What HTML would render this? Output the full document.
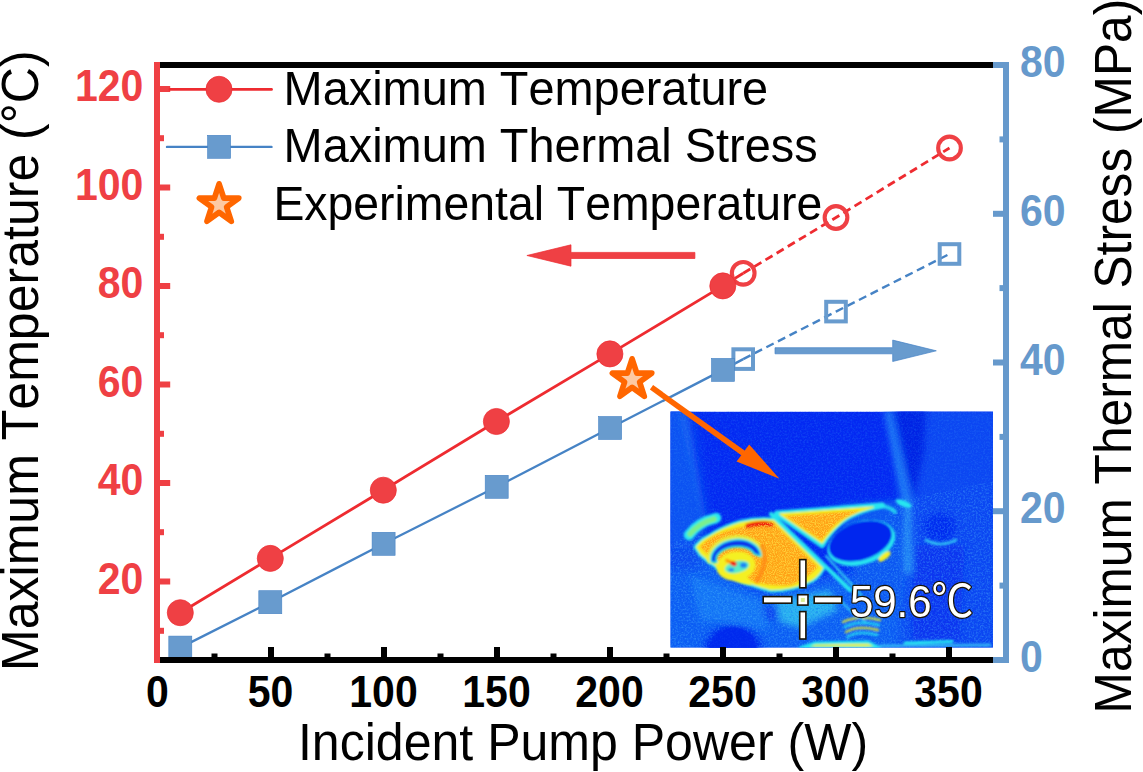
<!DOCTYPE html>
<html><head><meta charset="utf-8"><title>Figure</title>
<style>
html,body{margin:0;padding:0;background:#fff;}
body{width:1143px;height:772px;overflow:hidden;position:relative;}
svg{position:absolute;left:0;top:0;display:block;}
text{font-family:"Liberation Sans","Noto Sans CJK SC",sans-serif;font-kerning:none;}
.tk{font-weight:bold;font-size:41px;}
.lb{font-size:50px;fill:#000;}
.lg{font-size:46px;fill:#000;}
</style></head><body>
<svg width="1143" height="772" viewBox="0 0 1143 772">

<defs>
<clipPath id="ic"><rect x="670.5" y="411.6" width="322.5" height="236.0"/></clipPath>
<filter id="b1" x="-10%" y="-10%" width="120%" height="120%"><feGaussianBlur stdDeviation="1.1"/></filter>
<filter id="b3" x="-20%" y="-20%" width="140%" height="140%"><feGaussianBlur stdDeviation="3"/></filter>
<filter id="b6" x="-30%" y="-30%" width="160%" height="160%"><feGaussianBlur stdDeviation="6"/></filter>
<filter id="nz" x="0" y="0" width="100%" height="100%"><feTurbulence type="fractalNoise" baseFrequency="0.55" numOctaves="2" seed="7" result="t"/><feColorMatrix type="matrix" values="0 0 0 0 0.1  0 0 0 0 0.58  0 0 0 0 1  0 0 0 2.4 -1.0"/></filter>
<filter id="nzd" x="0" y="0" width="100%" height="100%"><feTurbulence type="fractalNoise" baseFrequency="0.6" numOctaves="2" seed="3"/><feColorMatrix type="matrix" values="0 0 0 0 0  0 0 0 0 0.08  0 0 0 0 0.92  0 0 0 2.4 -1.1"/></filter>
<filter id="nzy" x="0" y="0" width="100%" height="100%"><feTurbulence type="fractalNoise" baseFrequency="0.9" numOctaves="2" seed="11"/><feColorMatrix type="matrix" values="0 0 0 0 1  0 0 0 0 0.95  0 0 0 0 0.1  0 0 0 3.2 -1.25"/></filter>
</defs>
<g clip-path="url(#ic)">
<rect x="670.5" y="411.6" width="322.5" height="236.0" fill="#0428f2"/>
<g filter="url(#b6)">
<path d="M660 560 L700 548 L760 590 L830 575 L900 570 L1000 560 L1000 660 L660 660 Z" fill="#0c5ef4"/>
<path d="M664 405 L690 405 L706 520 L700 570 L664 570 Z" fill="#0c4cf0"/>
<path d="M896 405 L1000 405 L1000 660 L900 660 L905 520 Z" fill="#0a46f2"/>
</g>
<g filter="url(#b3)">
<path d="M676 412 L684 412 L704 520 L696 525 Z" fill="#2a86f6"/>
<path d="M884 410 L891 410 L912 505 L903 506 Z" fill="#2280f6"/>
<path d="M838 505 L900 500 L905 560 L900 600 L860 600 Z" fill="#0e58f2"/>
<path d="M894 408 L926 408 L924 452 L914 498 L906 470 Z" fill="#0322e4"/>
<path d="M904 500 L911 500 L912 574 L905 574 Z" fill="#2c9af6"/>
<path d="M668 408 L681 408 L705 528 L694 548 L668 548 Z" fill="#0e52f2"/>
<ellipse cx="940" cy="527" rx="16" ry="14" fill="#042cf0"/>
<path d="M915 545 L965 545 L960 640 L912 640 Z" fill="#0836f0"/>
<ellipse cx="733" cy="651" rx="30" ry="28" fill="#0630f0"/>
<ellipse cx="768" cy="614" rx="12" ry="7" fill="#0840f0"/>
<path d="M776 600 L830 590 L838 610 L800 628 L780 622 Z" fill="#2ab4f0"/>
<path d="M690 575 L760 600 L770 630 L700 620 Z" fill="#1478f6"/>
</g>
<rect x="670.5" y="411.6" width="322.5" height="236.0" filter="url(#nz)" opacity=".16"/>
<clipPath id="lc"><path d="M660 545 L700 535 L760 590 L830 575 L900 500 L1000 480 L1000 660 L660 660 Z"/></clipPath>
<rect x="670.5" y="471.6" width="322.5" height="176.0" filter="url(#nz)" opacity=".24" clip-path="url(#lc)"/>
<rect x="670.5" y="411.6" width="322.5" height="236.0" filter="url(#nzd)" opacity=".35"/>
<g filter="url(#b1)" stroke-linejoin="round" stroke-linecap="round">
<ellipse cx="733" cy="652" rx="25" ry="25" fill="#0428ee" opacity=".8"/>
<path d="M689 535 Q698 522 716 518" fill="none" stroke="#28e6f0" stroke-width="10.5"/>
<path d="M690 534 Q699 523 714 519" fill="none" stroke="#7af08c" stroke-width="5.5"/>
<path d="M696 547 Q700 541 709 536.5 Q722 528 740 522.5 Q756 518.5 774 520 L823 568 Q817 579 808 582 Q792 590 771 590 Q750 585 732 576 Q714 566 701 554.5 Z" fill="#28e6f0" stroke="#28e6f0" stroke-width="5"/>
<path d="M696 547 Q700 541 709 536.5 Q722 528 740 522.5 Q756 518.5 774 520 L823 568 Q817 579 808 582 Q792 590 771 590 Q750 585 732 576 Q714 566 701 554.5 Z" fill="#f4f020" stroke="#f4f020" stroke-width="0.5"/>
<path d="M700 547 Q706 540 716 535 Q736 526 773 522 L818 567 Q808 578 792 585 Q772 587 752 581 Q730 571 706 553 Z" fill="#ffa214"/>
<path d="M748 526 Q760 522.5 771 524.5" fill="none" stroke="#f01808" stroke-width="5.2"/>
<path d="M777 513.5 L882 505.5 Q856 510 842 521 Q829 532 822 545 Z" fill="#28e6f0" stroke="#28e6f0" stroke-width="6"/>
<path d="M780 514 L873 507.3 Q848 514 838 525 Q828 534 822 543 Z" fill="#f4f020" stroke="#f4f020" stroke-width="1.5"/>
<path d="M785 516 L860 510.5 Q840 518 831 529 Q825 536 821.5 540.5 Z" fill="#ffa214"/>
<path d="M876 506 Q888 505 895 512" fill="none" stroke="#28e6f0" stroke-width="4" opacity=".8"/>
<path d="M771 514 L850 590" fill="none" stroke="#28e6f0" stroke-width="4.2"/>
<path d="M826 556 L862 596" fill="none" stroke="#30c8f4" stroke-width="2.2"/>
</g>
<clipPath id="hc"><path d="M700 547 Q706 540 716 535 Q736 526 773 522 L818 567 Q808 578 792 585 Q772 587 752 581 Q730 571 706 553 Z"/><path d="M785 516 L860 510.5 Q840 518 831 529 Q825 536 821.5 540.5 Z"/></clipPath>
<rect x="690" y="505" width="190" height="95" filter="url(#nzy)" opacity=".5" clip-path="url(#hc)"/>
<g filter="url(#b1)" stroke-linejoin="round" stroke-linecap="round">
<path d="M710.5 560 A25 18 -7 0 1 761 554" fill="none" stroke="#e4f23c" stroke-width="7" opacity=".9"/>
<ellipse cx="736" cy="566" rx="19.5" ry="14.5" fill="#f4f020" transform="rotate(-8 736 566)"/>
<path d="M716 566 Q726 583 752 585 L744 572 Z" fill="#f4f020"/>
<path d="M711.8 561.2 A24 17.5 -7 0 1 759.9 555.2 L754.6 553 A20 11.5 -7 0 0 716 561.8 Z" fill="#28e6f0" stroke="#28e6f0" stroke-width="3.6"/>
<path d="M711.8 561.2 A24 17.5 -7 0 1 759.9 555.2 L754.6 553 A20 11.5 -7 0 0 716 561.8 Z" fill="#0a34ea"/>
<ellipse cx="737" cy="567" rx="12.5" ry="6" fill="#58ecc8" transform="rotate(-12 737 567)"/>
<ellipse cx="743.5" cy="565.2" rx="3.4" ry="2.6" fill="#1c84f4"/>
<ellipse cx="731.2" cy="569.8" rx="3" ry="1.8" fill="#1c84f4"/>
<path d="M727 560.5 L733 563.5" fill="none" stroke="#ff9a10" stroke-width="3.6"/>
<ellipse cx="733.6" cy="563.6" rx="3.3" ry="2.4" fill="#f01808" transform="rotate(25 733.6 563.6)"/>
<path d="M762 546 Q769 562 757 581" fill="none" stroke="#ff8410" stroke-width="4.5" opacity=".75"/>
<ellipse cx="861.3" cy="543" rx="35" ry="21.4" fill="#28e6f0" transform="rotate(-18 861.3 543)"/>
<ellipse cx="884.5" cy="556.5" rx="7.5" ry="3" fill="#f4f020" transform="rotate(-38 884.5 556.5)"/>
<ellipse cx="860.3" cy="541" rx="32.6" ry="18.8" fill="#0428ee" transform="rotate(-18 860.3 541)"/>
<ellipse cx="903.5" cy="503.5" rx="8.5" ry="3" fill="#28e6f0" transform="rotate(22 903.5 503.5)"/>
<path d="M926 540 Q940 548 956 540" fill="none" stroke="#30c0f4" stroke-width="2.6"/>
<path d="M843.0 622 Q858 615 880 620" fill="none" stroke="#f4f020" stroke-width="2.4" opacity=".85"/>
<path d="M844.5 627 Q858 620 879 625" fill="none" stroke="#28e6f0" stroke-width="2.4" opacity=".85"/>
<path d="M846.0 632 Q858 625 878 630" fill="none" stroke="#f4f020" stroke-width="2.4" opacity=".85"/>
<path d="M847.5 637 Q858 630 877 635" fill="none" stroke="#28e6f0" stroke-width="2.4" opacity=".85"/>
<path d="M800 648 L815 643 L868 642 L880 648 Z" fill="#f4f020" stroke="#28e6f0" stroke-width="3"/>
<path d="M905 643 L952 641.5" fill="none" stroke="#28e6f0" stroke-width="3"/>
<path d="M880 646 L990 645" fill="none" stroke="#30b0f4" stroke-width="3"/>
<path d="M840 600 Q850 612 866 622" fill="none" stroke="#30c0f4" stroke-width="2"/>
</g>
</g>
<rect x="799.7" y="559.6" width="6.2" height="28.2" fill="#fff" stroke="#1a1408" stroke-width="1.6"/>
<rect x="799.7" y="611.6" width="6.2" height="27.4" fill="#fff" stroke="#1a1408" stroke-width="1.6"/>
<rect x="763.2" y="596.6" width="28.6" height="6.6" fill="#fff" stroke="#1a1408" stroke-width="1.6"/>
<rect x="814.2" y="596.6" width="27.6" height="6.6" fill="#fff" stroke="#1a1408" stroke-width="1.6"/>
<rect x="797.6" y="594.7" width="10.4" height="10.4" fill="#fff" stroke="#1a1408" stroke-width="1.6"/>
<rect x="800.8" y="597.9" width="4" height="4" fill="#d8ee90"/>
<text x="850" y="616.5" font-size="45" fill="#fff" stroke="#1a1408" stroke-width="2.5" stroke-linejoin="round" paint-order="stroke" textLength="123.5" lengthAdjust="spacingAndGlyphs">59.6℃</text>
<polyline points="180.3,647.6 270.3,602.2 383.6,543.8 496.7,486.8 610.1,428.0 723.0,369.9 743.2,359.1" fill="none" stroke="#4683c5" stroke-width="2.4"/>
<polyline points="743.2,359.1 836.0,311.6 949.5,254.0" fill="none" stroke="#4683c5" stroke-width="2.4" stroke-dasharray="8.2 4.8"/>
<polyline points="180.3,612.7 270.3,558.4 383.3,490.2 496.4,421.5 609.9,353.9 722.8,285.9 743.2,273.3" fill="none" stroke="#ee2b30" stroke-width="2.8"/>
<polyline points="743.2,273.3 836.0,217.5 949.5,148.0" fill="none" stroke="#ee2b30" stroke-width="2.8" stroke-dasharray="8.2 4.8"/>
<rect x="733.4" y="349.3" width="19.6" height="19.6" fill="none" stroke="#689bce" stroke-width="4"/>
<rect x="826.2" y="301.8" width="19.6" height="19.6" fill="none" stroke="#689bce" stroke-width="4"/>
<rect x="939.7" y="244.2" width="19.6" height="19.6" fill="none" stroke="#689bce" stroke-width="4"/>
<circle cx="743.2" cy="273.3" r="11.35" fill="none" stroke="#ef4044" stroke-width="4.1"/>
<circle cx="836.0" cy="217.5" r="11.35" fill="none" stroke="#ef4044" stroke-width="4.1"/>
<circle cx="949.5" cy="148.0" r="11.35" fill="none" stroke="#ef4044" stroke-width="4.1"/>
<rect x="168.8" y="636.1" width="23" height="23" fill="#689bce" stroke="#4683c5" stroke-width="0.6"/>
<rect x="258.8" y="590.7" width="23" height="23" fill="#689bce" stroke="#4683c5" stroke-width="0.6"/>
<rect x="372.1" y="532.3" width="23" height="23" fill="#689bce" stroke="#4683c5" stroke-width="0.6"/>
<rect x="485.2" y="475.3" width="23" height="23" fill="#689bce" stroke="#4683c5" stroke-width="0.6"/>
<rect x="598.6" y="416.5" width="23" height="23" fill="#689bce" stroke="#4683c5" stroke-width="0.6"/>
<rect x="711.5" y="358.4" width="23" height="23" fill="#689bce" stroke="#4683c5" stroke-width="0.6"/>
<circle cx="180.3" cy="612.7" r="13.05" fill="#ef4044" stroke="#ee2b30" stroke-width="0.7"/>
<circle cx="270.3" cy="558.4" r="13.05" fill="#ef4044" stroke="#ee2b30" stroke-width="0.7"/>
<circle cx="383.3" cy="490.2" r="13.05" fill="#ef4044" stroke="#ee2b30" stroke-width="0.7"/>
<circle cx="496.4" cy="421.5" r="13.05" fill="#ef4044" stroke="#ee2b30" stroke-width="0.7"/>
<circle cx="609.9" cy="353.9" r="13.05" fill="#ef4044" stroke="#ee2b30" stroke-width="0.7"/>
<circle cx="722.8" cy="285.9" r="13.05" fill="#ef4044" stroke="#ee2b30" stroke-width="0.7"/>
<rect x="160" y="62" width="833" height="6" fill="#000"/>
<rect x="160" y="657" width="833" height="6" fill="#000"/>
<rect x="154" y="62" width="6" height="601" fill="#ef4044"/>
<rect x="1003" y="62" width="6" height="601" fill="#6699cc"/>
<rect x="993" y="62" width="10" height="6" fill="#6699cc"/>
<rect x="993" y="657" width="10" height="6" fill="#6699cc"/>
<rect x="160" y="578.5" width="10.2" height="6" fill="#ef4044"/>
<text transform="translate(143.30,593.90) scale(0.938,1)" font-size="43.7" text-anchor="end" fill="#ef4044" font-weight="bold">20</text>
<rect x="160" y="480.0" width="10.2" height="6" fill="#ef4044"/>
<text transform="translate(143.30,495.40) scale(0.938,1)" font-size="43.7" text-anchor="end" fill="#ef4044" font-weight="bold">40</text>
<rect x="160" y="381.5" width="10.2" height="6" fill="#ef4044"/>
<text transform="translate(143.30,396.90) scale(0.938,1)" font-size="43.7" text-anchor="end" fill="#ef4044" font-weight="bold">60</text>
<rect x="160" y="283.0" width="10.2" height="6" fill="#ef4044"/>
<text transform="translate(143.30,298.40) scale(0.938,1)" font-size="43.7" text-anchor="end" fill="#ef4044" font-weight="bold">80</text>
<rect x="160" y="184.5" width="10.2" height="6" fill="#ef4044"/>
<text transform="translate(143.30,199.90) scale(0.938,1)" font-size="43.7" text-anchor="end" fill="#ef4044" font-weight="bold">100</text>
<rect x="160" y="86.0" width="10.2" height="6" fill="#ef4044"/>
<text transform="translate(143.30,101.40) scale(0.938,1)" font-size="43.7" text-anchor="end" fill="#ef4044" font-weight="bold">120</text>
<rect x="160" y="627.8" width="4" height="6" fill="#ef4044"/>
<rect x="160" y="529.2" width="4" height="6" fill="#ef4044"/>
<rect x="160" y="430.8" width="4" height="6" fill="#ef4044"/>
<rect x="160" y="332.2" width="4" height="6" fill="#ef4044"/>
<rect x="160" y="233.8" width="4" height="6" fill="#ef4044"/>
<rect x="160" y="135.2" width="4" height="6" fill="#ef4044"/>
<text transform="translate(1020.00,672.20) scale(0.938,1)" font-size="43.7" text-anchor="start" fill="#6699cc" font-weight="bold">0</text>
<rect x="993" y="508.2" width="10" height="6" fill="#6699cc"/>
<text transform="translate(1020.00,523.45) scale(0.938,1)" font-size="43.7" text-anchor="start" fill="#6699cc" font-weight="bold">20</text>
<rect x="993" y="359.5" width="10" height="6" fill="#6699cc"/>
<text transform="translate(1020.00,374.70) scale(0.938,1)" font-size="43.7" text-anchor="start" fill="#6699cc" font-weight="bold">40</text>
<rect x="993" y="210.8" width="10" height="6" fill="#6699cc"/>
<text transform="translate(1020.00,225.95) scale(0.938,1)" font-size="43.7" text-anchor="start" fill="#6699cc" font-weight="bold">60</text>
<text transform="translate(1020.00,77.20) scale(0.938,1)" font-size="43.7" text-anchor="start" fill="#6699cc" font-weight="bold">80</text>
<rect x="999.5" y="582.6" width="3.5" height="6" fill="#6699cc"/>
<rect x="999.5" y="433.9" width="3.5" height="6" fill="#6699cc"/>
<rect x="999.5" y="285.1" width="3.5" height="6" fill="#6699cc"/>
<rect x="999.5" y="136.4" width="3.5" height="6" fill="#6699cc"/>
<text transform="translate(157.50,707.00) scale(0.938,1)" font-size="43.7" text-anchor="middle" fill="#000" font-weight="bold">0</text>
<rect x="268.0" y="647" width="6" height="10" fill="#000"/>
<text transform="translate(270.50,707.00) scale(0.938,1)" font-size="43.7" text-anchor="middle" fill="#000" font-weight="bold">50</text>
<rect x="381.0" y="647" width="6" height="10" fill="#000"/>
<text transform="translate(383.50,707.00) scale(0.938,1)" font-size="43.7" text-anchor="middle" fill="#000" font-weight="bold">100</text>
<rect x="494.0" y="647" width="6" height="10" fill="#000"/>
<text transform="translate(496.50,707.00) scale(0.938,1)" font-size="43.7" text-anchor="middle" fill="#000" font-weight="bold">150</text>
<rect x="607.0" y="647" width="6" height="10" fill="#000"/>
<text transform="translate(609.50,707.00) scale(0.938,1)" font-size="43.7" text-anchor="middle" fill="#000" font-weight="bold">200</text>
<rect x="720.0" y="647" width="6" height="10" fill="#000"/>
<text transform="translate(722.50,707.00) scale(0.938,1)" font-size="43.7" text-anchor="middle" fill="#000" font-weight="bold">250</text>
<rect x="833.0" y="647" width="6" height="10" fill="#000"/>
<text transform="translate(835.50,707.00) scale(0.938,1)" font-size="43.7" text-anchor="middle" fill="#000" font-weight="bold">300</text>
<rect x="946.0" y="647" width="6" height="10" fill="#000"/>
<text transform="translate(948.50,707.00) scale(0.938,1)" font-size="43.7" text-anchor="middle" fill="#000" font-weight="bold">350</text>
<rect x="211.5" y="653.5" width="6" height="3.5" fill="#000"/>
<rect x="324.5" y="653.5" width="6" height="3.5" fill="#000"/>
<rect x="437.5" y="653.5" width="6" height="3.5" fill="#000"/>
<rect x="550.5" y="653.5" width="6" height="3.5" fill="#000"/>
<rect x="663.5" y="653.5" width="6" height="3.5" fill="#000"/>
<rect x="776.5" y="653.5" width="6" height="3.5" fill="#000"/>
<rect x="889.5" y="653.5" width="6" height="3.5" fill="#000"/>
<line x1="170" y1="89.4" x2="271.5" y2="89.4" stroke="#ee2b30" stroke-width="2.8" stroke-linecap="round"/>
<circle cx="219" cy="89.3" r="13.05" fill="#ef4044" stroke="#ee2b30" stroke-width="0.7"/>
<line x1="167" y1="146.9" x2="271.5" y2="146.9" stroke="#4683c5" stroke-width="2.4" stroke-linecap="round"/>
<rect x="207.6" y="135.3" width="23" height="23" fill="#689bce" stroke="#4683c5" stroke-width="0.6"/>
<polygon points="219.1,183.8 223.8,198.1 238.8,198.1 226.6,207.0 231.3,221.3 219.1,212.4 206.9,221.3 211.6,207.0 199.4,198.1 214.4,198.1" fill="#fdc9a3" stroke="#ff6600" stroke-width="5.65" stroke-linejoin="round"/>
<text transform="translate(283.60,104.90) scale(0.977,1)" font-size="48" text-anchor="start" fill="#000">Maximum Temperature</text>
<text transform="translate(283.60,162.40) scale(0.977,1)" font-size="48" text-anchor="start" fill="#000">Maximum Thermal Stress</text>
<text transform="translate(273.40,219.80) scale(0.966,1)" font-size="48" text-anchor="start" fill="#000">Experimental Temperature</text>
<path d="M526.9 255.5 L571 244.8 L571 252.4 L694.9 252.4 L694.9 258.5 L571 258.5 L571 266.2 Z" fill="#ef4044" stroke="#ee2b30" stroke-width="0.7"/>
<path d="M936.3 350.8 L892.7 340.1 L892.7 347.7 L775 347.7 L775 353.8 L892.7 353.8 L892.7 361.5 Z" fill="#689bce" stroke="#4683c5" stroke-width="0.7"/>
<line x1="651.5" y1="387.3" x2="752" y2="459.4" stroke="#ff6600" stroke-width="5.6"/>
<polygon points="779.4,478.8 749.2,444.5 736.6,461.4" fill="#ff6600"/>
<polygon points="632.1,358.8 636.8,373.1 651.8,373.1 639.6,382.0 644.3,396.3 632.1,387.4 619.9,396.3 624.6,382.0 612.4,373.1 627.4,373.1" fill="#fdc9a3" stroke="#ff6600" stroke-width="5.65" stroke-linejoin="round"/>
<text transform="translate(583.00,759.70) scale(0.972,1)" font-size="51.5" text-anchor="middle" fill="#000">Incident Pump Power (W)</text>
<text transform="translate(38.10,671.00) rotate(-90) scale(0.972,1)" font-size="51.5" text-anchor="start" fill="#000">Maximum Temperature (°C)</text>
<text transform="translate(1130.70,713.40) rotate(-90) scale(0.9645,1)" font-size="51.5" text-anchor="start" fill="#000">Maximum Thermal Stress (MPa)</text>
</svg></body></html>
